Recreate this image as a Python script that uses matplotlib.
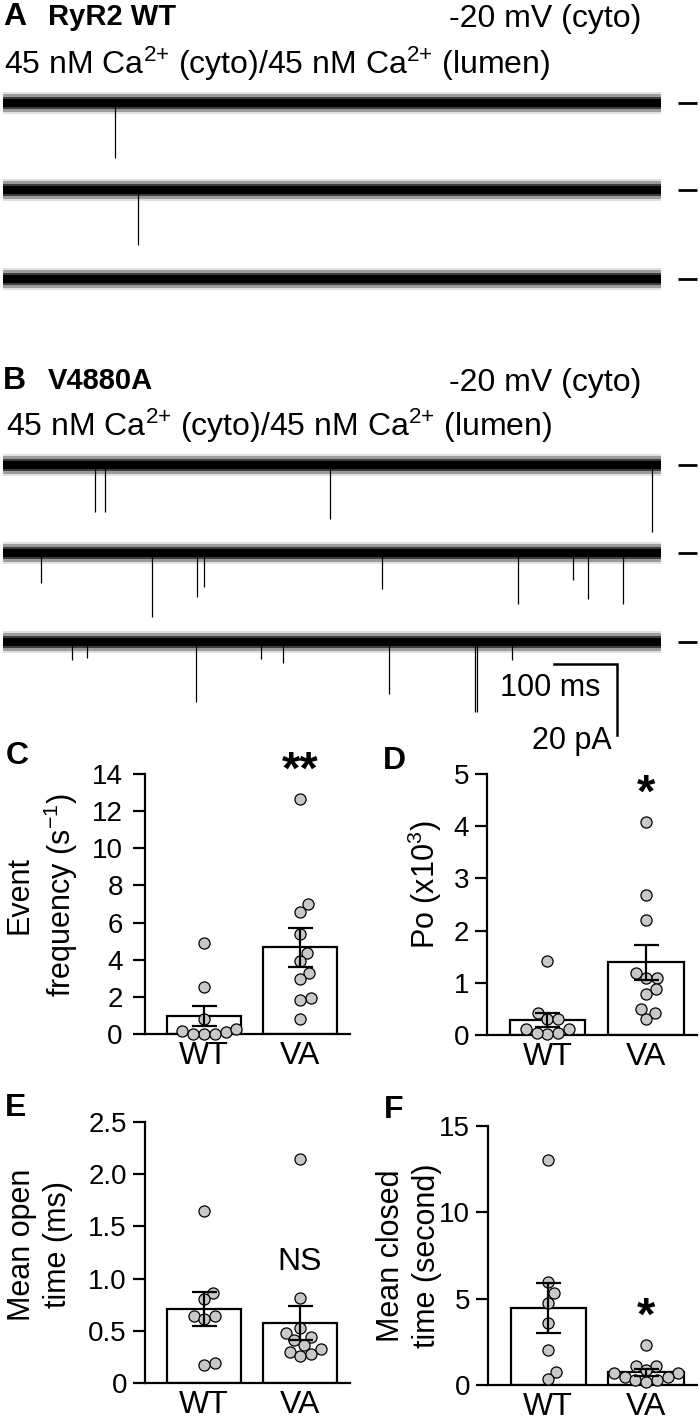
"""
Single-channel RyR2 recordings (WT vs V4880A) with summary bar/scatter panels.
"""
import matplotlib

matplotlib.use("Agg")
import matplotlib.pyplot as plt
import numpy as np

plt.rcParams["font.family"] = ["Liberation Sans", "DejaVu Sans"]
plt.rcParams["mathtext.fontset"] = "custom"
plt.rcParams["mathtext.rm"] = "Liberation Sans"
plt.rcParams["mathtext.it"] = "Liberation Sans:italic"
plt.rcParams["mathtext.bf"] = "Liberation Sans:bold"

W, H = 700, 1425  # output size in pixels (dpi 100)

# ---------------- traces: events as (time ms, amplitude pA) ----------------
SWEEP_MS = 1045
# noise envelope of the baseline: (half-width pA, alpha)
NOISE_BANDS = [(3.2, 0.12), (2.5, 0.3), (1.8, 0.6), (1.1, 1.0)]
SCALE_MS = 100
SCALE_PA = 20

wt_events = [
    [(178, 15.5)],
    [(214, 15.5)],
    [],
]
va_events = [
    [(146, 13.2), (162, 13.2), (519, 15.2), (1030, 18.9)],
    [(60, 8.5), (237, 18.0), (308, 12.4), (319, 9.6), (602, 10.1),
     (817, 14.4), (905, 7.6), (929, 13.0), (984, 14.4)],
    [(110, 5.0), (133, 4.5), (306, 16.9), (410, 4.8), (444, 5.9),
     (613, 14.6), (749, 19.7), (752, 19.7), (808, 5.0)],
]

# ---------------- summary data ----------------
groups = ["WT", "VA"]

freq_wt = [4.9, 2.55, 0.8, 0.16, 0.0, 0.0, 0.0, 0.1, 0.27]
freq_va = [12.65, 7.0, 6.59, 5.38, 4.38, 3.93, 3.27, 2.96, 1.92, 1.83, 0.79]
freq_mean = [0.99, 4.67]
freq_sem = [0.54, 1.04]

po_wt = [1.41, 0.42, 0.31, 0.31, 0.11, 0.04, 0.02, 0.04, 0.11]
po_va = [4.09, 2.68, 2.20, 1.19, 1.10, 1.10, 0.89, 0.79, 0.49, 0.42, 0.30]
po_mean = [0.29, 1.39]
po_sem = [0.14, 0.34]

open_wt = [1.65, 0.86, 0.80, 0.64, 0.64, 0.61, 0.19, 0.17]
open_va = [2.15, 0.81, 0.48, 0.53, 0.44, 0.36, 0.41, 0.30, 0.26, 0.28, 0.33]
open_mean = [0.71, 0.575]
open_sem = [0.16, 0.165]

closed_wt = [13.03, 5.98, 5.3, 4.77, 3.57, 2.03, 0.77, 0.33]
closed_va = [2.32, 1.1, 1.1, 0.87, 0.69, 0.69, 0.46, 0.46, 0.29, 0.29, 0.17]
closed_mean = [4.48, 0.74]
closed_sem = [1.45, 0.2]

POINT_FACE = "#c8c8c8"
DOT_DIAM_PX = 11.0
CA_LINE = "45 nM Ca$^{2{+}}$ (cyto)/45 nM Ca$^{2{+}}$ (lumen)"


def fx(x):
    return x / W


def fy(y):
    return 1 - y / H


def ptext(fig, x, y, s, **kw):
    kw.setdefault("ha", "left")
    kw.setdefault("va", "center")
    fig.text(fx(x), fy(y), s, **kw)


def swarm_offsets(ax, values, diam):
    """Beeswarm offsets (data x units) so that dots do not overlap."""
    trans = ax.transData
    ys = trans.transform(np.column_stack([np.zeros(len(values)), values]))[:, 1]
    offs = np.zeros(len(values))
    placed = []
    for i in np.argsort(ys, kind="stable"):
        y = ys[i]
        cands = [0.0]
        for px, py in placed:
            dy = y - py
            if abs(dy) < diam:
                dx = np.sqrt(diam ** 2 - dy ** 2)
                cands += [px + dx, px - dx]
        cands.sort(key=abs)
        for c in cands:
            if all((c - px) ** 2 + (y - py) ** 2 >= diam ** 2 - 1e-6 for px, py in placed):
                offs[i] = c
                break
        placed.append((offs[i], y))
    unit = trans.transform((1, 0))[0] - trans.transform((0, 0))[0]
    return offs / unit


fig = plt.figure(figsize=(W / 100, H / 100), dpi=100, facecolor="white")

# ---------------- trace axes (whole top part) ----------------
PX_PER_MS = 0.63
PX_PER_PA = 3.55
X0_PX = 3
TOP_H = 760
tax = fig.add_axes([0, fy(TOP_H), 1, TOP_H / H])
tax.set_xlim((0 - X0_PX) / PX_PER_MS, (W - X0_PX) / PX_PER_MS)
tax.set_ylim(-TOP_H / PX_PER_PA, 0)
tax.axis("off")


def row_y(py):
    return -py / PX_PER_PA


def draw_sweep(base, events):
    t = [0, SWEEP_MS]
    for half, alpha in NOISE_BANDS:
        tax.fill_between(t, base - half, base + half, color="black", lw=0, alpha=alpha)
    for tm, amp in events:
        tax.vlines(tm, base - amp, base, color="black", lw=0.9)
    mx0 = (678 - X0_PX) / PX_PER_MS
    mx1 = (697 - X0_PX) / PX_PER_MS
    tax.plot([mx0, mx1], [base, base], color="black", lw=2, solid_capstyle="butt")


for py, ev in zip([103, 190, 279], wt_events):
    draw_sweep(row_y(py), ev)
for py, ev in zip([465, 553, 642], va_events):
    draw_sweep(row_y(py), ev)

# scale bar
sb_x1 = (617 - X0_PX) / PX_PER_MS
sb_y = row_y(664)
tax.plot([sb_x1 - SCALE_MS, sb_x1, sb_x1], [sb_y, sb_y, sb_y - SCALE_PA],
         color="black", lw=1.8, solid_joinstyle="miter")
ptext(fig, 550, 688, "%d ms" % SCALE_MS, ha="center", fontsize=22)
ptext(fig, 612, 741, "%d pA" % SCALE_PA, ha="right", fontsize=22)

# headers
ptext(fig, 3, 17, "A", fontsize=23, fontweight="bold")
ptext(fig, 48, 17, "RyR2 WT", fontsize=21, fontweight="bold")
ptext(fig, 449, 19, "-20 mV (cyto)", fontsize=23)
ptext(fig, 4, 64, CA_LINE, fontsize=23)

ptext(fig, 3, 381, "B", fontsize=23, fontweight="bold")
ptext(fig, 48, 381, "V4880A", fontsize=21, fontweight="bold")
ptext(fig, 449, 383, "-20 mV (cyto)", fontsize=23)
ptext(fig, 6, 426, CA_LINE, fontsize=23)


# ---------------- bar + scatter panels ----------------
def bar_panel(box, ylim, yticks, yticklabels, pts, means, sems, tickpad=4):
    left, top, right, bottom = box
    ax = fig.add_axes([fx(left), fy(bottom), (right - left) / W, (bottom - top) / H])
    ax.set_xlim(-0.615, 1.52)
    ax.set_ylim(*ylim)
    for side in ("top", "right"):
        ax.spines[side].set_visible(False)
    for side in ("left", "bottom"):
        ax.spines[side].set_linewidth(1.6)
    ax.set_yticks(yticks)
    ax.set_yticklabels(yticklabels)
    ax.set_xticks([0, 1])
    ax.set_xticklabels(groups)
    ax.tick_params(axis="y", length=9, width=1.6, labelsize=20, pad=tickpad)
    ax.tick_params(axis="x", length=0, labelsize=23, pad=5)
    ax.bar([0, 1], means, width=0.77, color="white", edgecolor="black",
           linewidth=1.6, zorder=2)
    for i, vals in enumerate(pts):
        off = swarm_offsets(ax, vals, DOT_DIAM_PX)
        ax.scatter(i + off, vals, s=64, facecolor=POINT_FACE, edgecolor="black",
                   linewidth=0.9, zorder=3, clip_on=False)
    ax.errorbar([0, 1], means, yerr=sems, fmt="none", ecolor="black",
                elinewidth=1.6, capsize=9, capthick=1.6, zorder=4)
    return ax


axC = bar_panel((145, 774, 350, 1034), (0, 14), range(0, 15, 2),
                [str(v) for v in range(0, 15, 2)],
                [freq_wt, freq_va], freq_mean, freq_sem, tickpad=7)
axD = bar_panel((487, 774, 697, 1035), (0, 5), range(0, 6),
                [str(v) for v in range(0, 6)],
                [po_wt, po_va], po_mean, po_sem)
axE = bar_panel((145, 1122, 350, 1383), (0, 2.5), [0, 0.5, 1.0, 1.5, 2.0, 2.5],
                ["0", "0.5", "1.0", "1.5", "2.0", "2.5"],
                [open_wt, open_va], open_mean, open_sem)
axF = bar_panel((488, 1126, 697, 1385), (0, 15), [0, 5, 10, 15],
                ["0", "5", "10", "15"],
                [closed_wt, closed_va], closed_mean, closed_sem)

# significance marks
axC.text(1, 14.1, "**", ha="center", va="center", fontsize=34, fontweight="bold")
axD.text(1, 4.6, "*", ha="center", va="center", fontsize=34, fontweight="bold")
axE.text(1, 1.16, "NS", ha="center", va="center", fontsize=23)
axF.text(1, 3.9, "*", ha="center", va="center", fontsize=34, fontweight="bold")

# panel letters
ptext(fig, 6, 756, "C", fontsize=23, fontweight="bold")
ptext(fig, 383, 761, "D", fontsize=23, fontweight="bold")
ptext(fig, 5, 1108, "E", fontsize=23, fontweight="bold")
ptext(fig, 384, 1110, "F", fontsize=23, fontweight="bold")

# y labels
ylab = dict(rotation=90, ha="center", va="center", fontsize=22,
            multialignment="center", linespacing=1.25)
ptext(fig, 42, 895, "Event\nfrequency (s$^{-1}$)", **ylab)
ptext(fig, 425, 885, "Po (x10$^{3}$)", **ylab)
ptext(fig, 40, 1245, "Mean open\ntime (ms)", **ylab)
ptext(fig, 409, 1256, "Mean closed\ntime (second)", **ylab)

fig.savefig("out.png", dpi=100, facecolor="white")
